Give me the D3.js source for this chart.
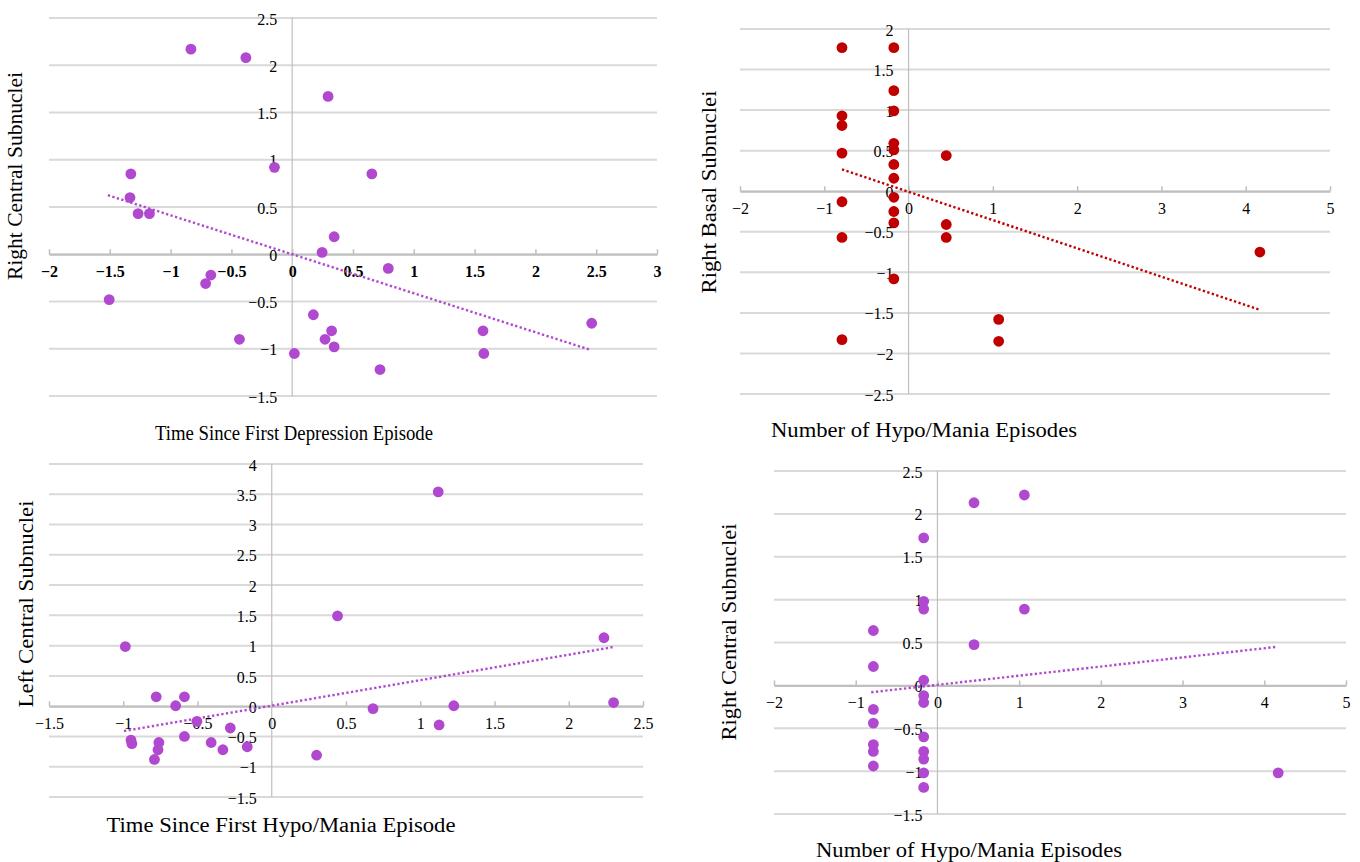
<!DOCTYPE html>
<html>
<head>
<meta charset="utf-8">
<script src="https://cdn.jsdelivr.net/npm/d3@7"></script>
<style>
  body { margin: 0; background: #fff; }
  svg text { font-family: "Liberation Serif", "Times New Roman", serif; fill: #000; }
</style>
</head>
<body>
<svg id="chart" width="1360" height="862"></svg>
<script>
// panel 1: time since first depression episode vs right central
var depTimeX = [-0.833, -0.381, 0.295, -0.146, 0.655, -1.327, -1.334, -1.267, -1.174, 0.345, 0.246, 0.79, -0.669,
  -0.712, -1.505, 0.174, 0.324, 0.27, -0.434, 0.345, 0.018, 0.722, 1.569, 1.576, 2.463];
var depRightCentral = [2.17, 2.08, 1.67, 0.92, 0.85, 0.85, 0.60, 0.43, 0.43, 0.185, 0.02, -0.15, -0.22,
  -0.31, -0.48, -0.64, -0.81, -0.90, -0.90, -0.98, -1.05, -1.22, -0.81, -1.05, -0.73];
var depTrendX = [-1.516, 2.448];
var depTrendY = [0.625, -1.01];

// panel 2: number of hypo/mania episodes vs right basal
var epiCountBasal = [-0.79, -0.79, -0.79, -0.79, -0.79, -0.79, -0.79,
  -0.175, -0.175, -0.175, -0.175, -0.175, -0.175, -0.175, -0.175, -0.175, -0.175, -0.175,
  0.447, 0.447, 0.447, 1.069, 1.069, 4.168];
var rightBasal = [1.77, 0.93, 0.81, 0.47, -0.13, -0.57, -1.83,
  1.77, 1.24, 0.99, 0.59, 0.51, 0.33, 0.16, -0.075, -0.25, -0.39, -1.08,
  0.44, -0.41, -0.57, -1.58, -1.85, -0.75];
var basalTrendX = [-0.79, 4.16];
var basalTrendY = [0.27, -1.46];

// panel 3: time since first hypo/mania episode vs left central
var maniaTimeX = [-0.986, 0.443, 1.121, 2.237, 2.302, 1.226, 0.682, 1.127, 0.302, -0.778, -0.588, -0.647,
  -0.504, -0.279, -0.588, -0.948, -0.942, -0.76, -0.766, -0.408, -0.329, -0.165, -0.79];
var leftCentral = [0.985, 1.49, 3.54, 1.13, 0.06, 0.007, -0.04, -0.31, -0.81, 0.155, 0.155, 0.007,
  -0.25, -0.36, -0.5, -0.56, -0.62, -0.6, -0.72, -0.6, -0.72, -0.67, -0.88];
var maniaTrendX = [-0.995, 2.296];
var maniaTrendY = [-0.41, 0.975];

// panel 4: number of hypo/mania episodes vs right central
var epiCountCentral = [-0.784, -0.784, -0.784, -0.784, -0.784, -0.784, -0.784,
  -0.168, -0.168, -0.168, -0.168, -0.168, -0.168, -0.168, -0.168, -0.168, -0.168, -0.168,
  0.448, 0.448, 1.064, 1.064, 4.17];
var epiRightCentral = [0.64, 0.22, -0.28, -0.44, -0.69, -0.77, -0.94,
  1.72, 0.98, 0.89, 0.06, -0.12, -0.2, -0.6, -0.77, -0.86, -1.02, -1.19,
  2.13, 0.475, 2.22, 0.89, -1.02];
var centralTrendX = [-0.81, 4.16];
var centralTrendY = [-0.08, 0.45];

var purple = "#b048d0", red = "#c00000";

var svg = d3.select("#chart");

function panel(p) {
  var x = d3.scaleLinear().domain(p.xd).range(p.xr);
  var y = d3.scaleLinear().domain(p.yd).range(p.yr);
  var g = svg.append("g");

  var yt = d3.range(p.yd[0], p.yd[1] + 0.001, p.ystep);
  g.selectAll(".grid").data(yt).enter().append("line")
    .attr("x1", p.xr[0]).attr("x2", p.xr[1])
    .attr("y1", function (d) { return y(d); }).attr("y2", function (d) { return y(d); })
    .attr("stroke", "#d9d9d9").attr("stroke-width", 2);

  // vertical axis through x = 0
  g.append("line").attr("x1", x(0)).attr("x2", x(0)).attr("y1", p.yr[1]).attr("y2", p.yr[0])
    .attr("stroke", "#bfbfbf").attr("stroke-width", 1.2);

  // horizontal axis through y = 0
  var xAxis = d3.axisBottom(x).tickValues(d3.range(p.xd[0], p.xd[1] + 0.001, p.xstep))
    .tickSize(-5).tickSizeOuter(0).tickFormat(d3.format("~g"));
  var ax = g.append("g").attr("transform", "translate(0," + y(0) + ")").call(xAxis);
  ax.attr("font-family", null).attr("font-size", null);
  ax.select(".domain").attr("stroke", "#bfbfbf").attr("stroke-width", 2);
  ax.selectAll(".tick line").attr("stroke", "#bfbfbf").attr("stroke-width", 1.5);
  ax.selectAll(".tick text").attr("y", 11).attr("dy", "0.71em")
    .style("font-size", "16px").style("font-weight", p.boldX ? "bold" : "normal")
    .attr("fill", "#000");

  g.selectAll(".ylab").data(yt).enter().append("text")
    .attr("x", x(0) - 15).attr("y", function (d) { return y(d) + 1; })
    .attr("dy", "0.35em").attr("text-anchor", "end").style("font-size", "16px")
    .text(function (d) { return d3.format("~g")(d); });

  g.append("line")
    .attr("x1", x(p.tx[0])).attr("y1", y(p.ty[0]))
    .attr("x2", x(p.tx[1])).attr("y2", y(p.ty[1]))
    .attr("stroke", p.color).attr("stroke-width", 2.4).attr("stroke-dasharray", "2.3,2.4");

  g.selectAll(".dot").data(p.xs).enter().append("circle")
    .attr("cx", function (d) { return x(d); })
    .attr("cy", function (d, i) { return y(p.ys[i]); })
    .attr("r", 5.4).attr("fill", p.color);

  g.append("text").attr("x", p.xt[0]).attr("y", p.xt[1]).attr("text-anchor", "middle")
    .style("font-size", "20px").attr("textLength", p.xt[2]).attr("lengthAdjust", "spacingAndGlyphs")
    .text(p.xtitle);
  g.append("text").attr("transform", "translate(" + p.yt[0] + "," + p.yt[1] + ") rotate(-90)")
    .attr("text-anchor", "middle").style("font-size", "20px")
    .attr("textLength", p.yt[2]).attr("lengthAdjust", "spacingAndGlyphs")
    .text(p.ytitle);
}

panel({ xs: depTimeX, ys: depRightCentral, tx: depTrendX, ty: depTrendY, color: purple, boldX: true,
  xd: [-2, 3], xr: [49, 657], xstep: 0.5, yd: [-1.5, 2.5], yr: [396, 18], ystep: 0.5,
  xtitle: "Time Since First Depression Episode", xt: [294, 440, 278],
  ytitle: "Right Central Subnuclei", yt: [22, 176, 208] });

panel({ xs: epiCountBasal, ys: rightBasal, tx: basalTrendX, ty: basalTrendY, color: red,
  xd: [-2, 5], xr: [740, 1330], xstep: 1, yd: [-2.5, 2], yr: [394, 29], ystep: 0.5,
  xtitle: "Number of Hypo/Mania Episodes", xt: [924, 437, 306],
  ytitle: "Right Basal Subnuclei", yt: [716, 192, 203] });

panel({ xs: maniaTimeX, ys: leftCentral, tx: maniaTrendX, ty: maniaTrendY, color: purple,
  xd: [-1.5, 2.5], xr: [49, 643], xstep: 0.5, yd: [-1.5, 4], yr: [797, 464], ystep: 0.5,
  xtitle: "Time Since First Hypo/Mania Episode", xt: [281, 832, 349],
  ytitle: "Left Central Subnuclei", yt: [33, 604, 207] });

panel({ xs: epiCountCentral, ys: epiRightCentral, tx: centralTrendX, ty: centralTrendY, color: purple,
  xd: [-2, 5], xr: [774, 1346], xstep: 1, yd: [-1.5, 2.5], yr: [814, 471], ystep: 0.5,
  xtitle: "Number of Hypo/Mania Episodes", xt: [969, 857, 306],
  ytitle: "Right Central Subnuclei", yt: [736, 632, 217] });
</script>
</body>
</html>
